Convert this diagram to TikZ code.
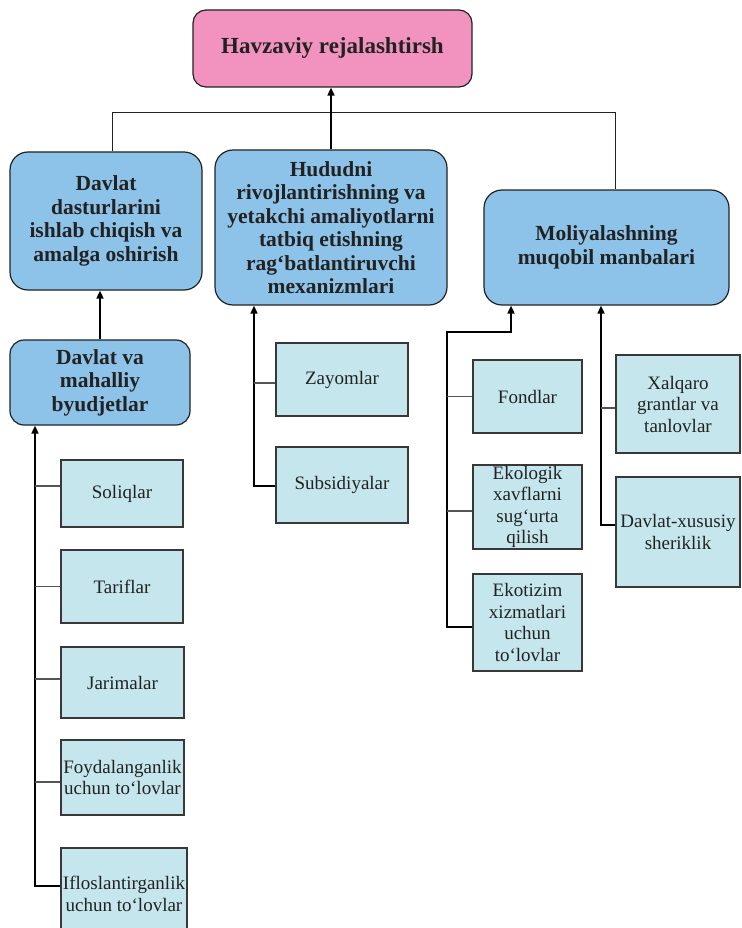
\documentclass[tikz,border=0pt]{standalone}
\usepackage{fontspec}
\setmainfont{Liberation Serif}
\usetikzlibrary{arrows.meta}

\definecolor{pinkfill}{HTML}{F293BF}
\definecolor{bluefill}{HTML}{8DC3E9}
\definecolor{cyanfill}{HTML}{C4E6EC}
\definecolor{inkdark}{HTML}{222222}
\definecolor{tickgray}{HTML}{555555}

\tikzset{
  mainbox/.style={draw=inkdark, line width=1.2pt, rounded corners=13pt, fill=pinkfill,
    inner sep=0pt, align=center, text=inkdark,
    font=\fontsize{23}{25}\selectfont\bfseries},
  groupbox/.style={draw=inkdark, line width=1.2pt, rounded corners=18pt, fill=bluefill,
    inner sep=0pt, align=center, text=inkdark,
    font=\fontsize{21.5}{23.5}\selectfont\bfseries},
  itembox/.style={draw=inkdark!90, line width=1.3pt, fill=cyanfill,
    inner sep=0pt, align=center, text=inkdark,
    font=\fontsize{19}{21.5}\selectfont},
  arr/.style={draw=black, line width=1.6pt, -{Triangle[length=8pt,width=7pt]}},
  branch/.style={draw=tickgray, line width=1.3pt},
  bus/.style={draw=inkdark, line width=1pt}
}

\begin{document}
\begin{tikzpicture}[x=1pt,y=-1pt]
\useasboundingbox (0,0) rectangle (741,928);
\clip (0,0) rectangle (741,928);

% top level
\node[mainbox, minimum width=279pt, minimum height=77pt] (top) at (332.5,48.5) {Havzaviy rejalashtirsh};

% second level
\node[groupbox, minimum width=192pt, minimum height=138pt] (dds) at (106,221)
  {Davlat\\dasturlarini\\ishlab chiqish va\\amalga oshirish};
\node[groupbox, minimum width=232pt, minimum height=155pt] (hud) at (331,227.5)
  {Hududni\\rivojlantirishning va\\yetakchi amaliyotlarni\\tatbiq etishning\\rag{\char"2018}batlantiruvchi\\mexanizmlari};
\node[groupbox, minimum width=245pt, minimum height=115pt] (mol) at (606.5,247.5)
  {Moliyalashning\\muqobil manbalari};
\node[groupbox, rounded corners=14pt, minimum width=180pt, minimum height=85pt] (mah) at (100,382.5)
  {Davlat va\\mahalliy\\byudjetlar};

% budget items
\node[itembox, minimum width=122pt, minimum height=67pt] (sol) at (122,493.5) {Soliqlar};
\node[itembox, minimum width=122pt, minimum height=73pt] (tar) at (122,586.5) {Tariflar};
\node[itembox, minimum width=123pt, minimum height=71pt] (jar) at (122.5,682.5) {Jarimalar};
\node[itembox, minimum width=123pt, minimum height=75pt] (foy) at (122.5,777.5) {Foydalanganlik\\uchun to{\char"2018}lovlar};
\node[itembox, minimum width=126pt, minimum height=92pt] (ifl) at (124,894) {Ifloslantirganlik\\uchun to{\char"2018}lovlar};

% incentive items
\node[itembox, minimum width=132pt, minimum height=73pt] (zay) at (342,379.5) {Zayomlar};
\node[itembox, minimum width=132pt, minimum height=76pt] (sub) at (342,485) {Subsidiyalar};

% alternative funding items
\node[itembox, minimum width=109pt, minimum height=73pt] (fon) at (527.5,396.5) {Fondlar};
\node[itembox, minimum width=109pt, minimum height=84pt] (eko) at (527.5,507) {Ekologik\\xavflarni\\sug{\char"2018}urta\\qilish};
\node[itembox, minimum width=109pt, minimum height=97pt] (ekt) at (527.5,622.5) {Ekotizim\\xizmatlari\\uchun\\to{\char"2018}lovlar};
\node[itembox, minimum width=124pt, minimum height=98pt] (xal) at (678,404) {Xalqaro\\grantlar va\\tanlovlar};
\node[itembox, minimum width=124pt, minimum height=110pt] (dxs) at (678,532) {Davlat-xususiy\\sheriklik};

% reference points for the connector trunks
\coordinate (busL) at (112,113);
\coordinate (busR) at (615,113);
\coordinate (xL) at (35,0);
\coordinate (xH) at (254,0);
\coordinate (xM) at (447,0);
\coordinate (xA) at (511,0);
\coordinate (xB) at (601,0);
\coordinate (yM) at (0,332);

% bus joining the second level
\draw[bus] (dds.north -| busL) -- (busL) -- (busR) -- (mol.north -| busR);
\draw[arr] (hud.north) -- (hud.north |- top.south);
\draw[arr] (mah.north) -- (mah.north |- dds.south);

% budget trunk
\draw[arr] ([yshift=8pt]ifl.west) -| (mah.south -| xL);
\draw[branch] ([yshift=7.5pt]sol.west) -- ([yshift=7.5pt]sol.west -| xL);
\draw[branch] (tar.west) -- (tar.west -| xL);
\draw[branch] ([yshift=3.5pt]jar.west) -- ([yshift=3.5pt]jar.west -| xL);
\draw[branch] ([yshift=-4.5pt]foy.west) -- ([yshift=-4.5pt]foy.west -| xL);

% incentive trunk
\draw[arr] ([yshift=-1pt]sub.west) -| (hud.south -| xH);
\draw[branch] ([yshift=-3.5pt]zay.west) -- ([yshift=-3.5pt]zay.west -| xH);

% funding trunks
\draw[arr] ([yshift=-4.5pt]ekt.west) -| (xM |- yM) -| (mol.south -| xA);
\draw[branch] (fon.west) -- (fon.west -| xM);
\draw[branch] ([yshift=-4pt]eko.west) -- ([yshift=-4pt]eko.west -| xM);
\draw[arr] ([yshift=7pt]dxs.west) -| (mol.south -| xB);
\draw[branch] ([yshift=-4pt]xal.west) -- ([yshift=-4pt]xal.west -| xB);
\end{tikzpicture}
\end{document}
